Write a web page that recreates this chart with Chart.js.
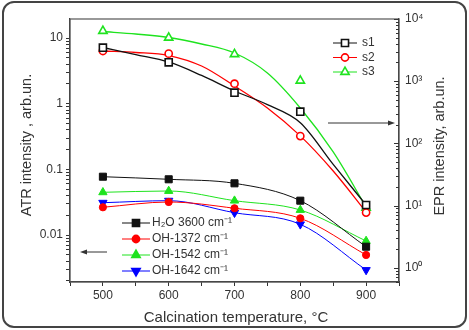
<!DOCTYPE html>
<html>
<head>
<meta charset="utf-8">
<script src="https://cdn.jsdelivr.net/npm/chart.js@4"></script>
<style>
  html, body { margin: 0; padding: 0; background: #fff; }
  #wrap { position: relative; width: 469px; height: 330px; }
  #frame { position: absolute; left: 2px; top: 1px; width: 465px; height: 327px; box-sizing: border-box;
           border: 2px solid #444; border-radius: 12px; pointer-events: none; }
</style>
</head>
<body>
<div id="wrap">
  <canvas id="chart" width="469" height="330"></canvas>
  <div id="frame"></div>
</div>
<script>
const temps = [500, 600, 700, 800, 900]
const fitTemps = [500, 550, 600, 650, 700, 750, 800, 850, 900]

// EPR points (right axis)
const s1 = [3460, 2010, 653, 323, 10.2]
const s2 = [3060, 2770, 912, 131, 7.7]
const s3 = [6410, 5000, 2710, 1018, 9.2]

// EPR fitted curves
const s1Fit = [3480, 2685, 2037, 1236, 696, 420, 215, 46, 10.2]
const s2Fit = [3060, 2893, 2587, 1754, 838, 371, 132, 36, 7.9]
const s3Fit = [6300, 5740, 5040, 3963, 2840, 1355, 371, 72.8, 9.5]

// ATR points (left axis)
const h2o = [0.0774, 0.0707, 0.0614, 0.0334, 0.00665]
const oh1372 = [0.0265, 0.0319, 0.0256, 0.018, 0.00498]
const oh1542 = [0.0448, 0.0469, 0.0334, 0.0241, 0.00813]
const oh1642 = [0.0311, 0.0334, 0.0219, 0.0146, 0.00294]

const xTicks = [500, 600, 700, 800, 900]
const atrTicks = [0.01, 0.1, 1, 10]
const eprTicks = [1, 10, 100, 1000, 10000]
const eprLabels = ['10⁰', '10¹', '10²', '10³', '10⁴']

const BLACK = '#111', RED = '#ff0000', GREEN = '#1ee31e', BLUE = '#0000ff'
const FONT = '"Liberation Sans", Arial, sans-serif'

Chart.defaults.font.family = FONT
Chart.defaults.color = '#333'

const pts = (xs, ys) => xs.map((x, i) => ({ x, y: ys[i] }))

const radiusFor = style => style === 'rect' ? 5 : style === 'circle' ? 3.6 : 4.8

// hollow EPR markers
const eprMarks = (ys, color, style) => ({
  data: pts(temps, ys), yAxisID: 'y1', showLine: false, order: 0,
  pointStyle: style, pointRadius: radiusFor(style),
  pointBorderColor: color, pointBackgroundColor: '#fff', pointBorderWidth: 1.6,
})

const eprFit = (ys, color) => ({
  data: pts(fitTemps, ys), yAxisID: 'y1', order: 1,
  borderColor: color, borderWidth: 1.3, pointRadius: 0, cubicInterpolationMode: 'monotone',
})

// filled ATR markers with their lines
const atr = (ys, color, style, rot) => ({
  data: pts(temps, ys), yAxisID: 'y', order: 0,
  borderColor: color, borderWidth: 1, cubicInterpolationMode: 'monotone',
  pointStyle: style, pointRadius: radiusFor(style), pointRotation: rot || 0,
  pointBorderColor: color, pointBackgroundColor: color, pointBorderWidth: 1,
})

const logTicks = scale => {
  const ticks = []
  for (let e = Math.floor(Math.log10(scale.min)); e <= Math.ceil(Math.log10(scale.max)); e++) {
    for (let m = 1; m < 10; m++) {
      const v = m * Math.pow(10, e)
      if (v >= scale.min && v <= scale.max) ticks.push({ value: v, major: m === 1 })
    }
  }
  scale.ticks = ticks
}

const findTick = (list, v) => list.findIndex(t => Math.abs(v / t - 1) < 1e-6)

const arrow = (ctx, x0, x1, y) => {
  const dir = Math.sign(x1 - x0)
  ctx.beginPath(); ctx.moveTo(x0, y); ctx.lineTo(x1 - dir * 5, y); ctx.stroke()
  ctx.beginPath(); ctx.moveTo(x1, y); ctx.lineTo(x1 - dir * 7, y - 2.5); ctx.lineTo(x1 - dir * 7, y + 2.5)
  ctx.closePath(); ctx.fill()
}

const legendItem = (ctx, item, x0, x1, y, tx) => {
  ctx.strokeStyle = item.color; ctx.lineWidth = 1
  ctx.beginPath(); ctx.moveTo(x0, y); ctx.lineTo(x1, y); ctx.stroke()
  ctx.fillStyle = item.filled ? item.color : '#fff'
  ctx.lineWidth = 1.6
  Chart.helpers.drawPoint(ctx, { pointStyle: item.style, radius: radiusFor(item.style),
    rotation: item.rot || 0, borderWidth: item.filled ? 1 : 1.6 }, (x0 + x1) / 2, y)
  ctx.fillStyle = '#333'
  ctx.textAlign = 'left'; ctx.textBaseline = 'middle'
  ctx.fillText(item.label, tx, y)
}

const eprLegend = [
  { label: 's1', color: BLACK, style: 'rect' },
  { label: 's2', color: RED, style: 'circle' },
  { label: 's3', color: GREEN, style: 'triangle' },
]
const atrLegend = [
  { label: 'H₂O 3600 cm⁻¹', color: BLACK, style: 'rect', filled: true },
  { label: 'OH-1372 cm⁻¹', color: RED, style: 'circle', filled: true },
  { label: 'OH-1542 cm⁻¹', color: GREEN, style: 'triangle', filled: true },
  { label: 'OH-1642 cm⁻¹', color: BLUE, style: 'triangle', filled: true, rot: 180 },
]

const overlay = {
  id: 'overlay',
  afterDraw(chart) {
    const { ctx, chartArea: a, scales } = chart
    ctx.save()

    // plot frame
    ctx.strokeStyle = '#555'; ctx.lineWidth = 1.2
    ctx.strokeRect(a.left, a.top, a.right - a.left, a.bottom - a.top)

    // right axis ticks point inward
    ctx.strokeStyle = '#333'; ctx.lineWidth = 1
    scales.y1.ticks.forEach(t => {
      const y = Math.round(scales.y1.getPixelForValue(t.value)) + 0.5
      ctx.beginPath(); ctx.moveTo(a.right, y); ctx.lineTo(a.right - (t.major ? 5 : 3), y); ctx.stroke()
    })

    // axis titles
    ctx.fillStyle = '#333'
    ctx.font = '14.5px ' + FONT
    ctx.textAlign = 'center'; ctx.textBaseline = 'middle'
    ctx.save(); ctx.translate(27, 145); ctx.rotate(-Math.PI / 2)
    ctx.fillText('ATR intensity , arb.un.', 0, 0); ctx.restore()
    ctx.save(); ctx.translate(440, 146); ctx.rotate(-Math.PI / 2)
    ctx.fillText('EPR intensity, arb.un.', 0, 0); ctx.restore()
    ctx.font = '15px ' + FONT
    ctx.fillText('Calcination temperature, °C', 236, 318)

    // arrows pointing to the axis of each group
    ctx.strokeStyle = '#333'; ctx.fillStyle = '#333'; ctx.lineWidth = 1
    arrow(ctx, 107, 80, 252)
    arrow(ctx, 328, 395, 123)

    // legends
    ctx.font = '12px ' + FONT
    eprLegend.forEach((it, i) => legendItem(ctx, it, 333, 357, 43 + i * 14.5, 362))
    atrLegend.forEach((it, i) => legendItem(ctx, it, 122, 150, 223 + i * 16, 152))

    ctx.restore()
  }
}

new Chart(document.getElementById('chart'), {
  type: 'line',
  data: {
    datasets: [
      eprMarks(s1, BLACK, 'rect'),
      eprMarks(s2, RED, 'circle'),
      eprMarks(s3, GREEN, 'triangle'),
      eprFit(s1Fit, BLACK),
      eprFit(s2Fit, RED),
      eprFit(s3Fit, GREEN),
      atr(h2o, BLACK, 'rect'),
      atr(oh1372, RED, 'circle'),
      atr(oh1542, GREEN, 'triangle'),
      atr(oh1642, BLUE, 'triangle', 180),
    ]
  },
  options: {
    responsive: false,
    animation: false,
    layout: { padding: { top: 19, left: 0, right: 0, bottom: 0 } },
    plugins: { legend: { display: false }, tooltip: { enabled: false } },
    scales: {
      x: {
        type: 'linear', min: 450, max: 950,
        afterFit: s => { s.height = 48 },
        grid: { drawOnChartArea: false, tickLength: 4, color: '#333' },
        border: { color: '#333', width: 1.2 },
        ticks: { stepSize: 50, autoSkip: false, maxRotation: 0, padding: 2, font: { size: 12 },
          callback: v => xTicks.includes(v) ? String(v) : '' },
      },
      y: {
        type: 'logarithmic', position: 'left', min: 0.00193, max: 19.5,
        afterFit: s => { s.width = 70 },
        afterBuildTicks: logTicks,
        grid: { drawOnChartArea: false, tickLength: 4, color: '#333' },
        border: { color: '#333', width: 1.2 },
        ticks: { autoSkip: false, padding: 3, font: { size: 12 },
          callback: v => { const i = findTick(atrTicks, v); return i < 0 ? '' : String(atrTicks[i]) } },
      },
      y1: {
        type: 'logarithmic', position: 'right', min: 0.59, max: 10000,
        afterFit: s => { s.width = 70 },
        afterBuildTicks: logTicks,
        grid: { drawOnChartArea: false, drawTicks: false },
        border: { color: '#333', width: 1.2 },
        ticks: { autoSkip: false, padding: 6, font: { size: 12 },
          callback: v => { const i = findTick(eprTicks, v); return i < 0 ? '' : eprLabels[i] } },
      },
    },
  },
  plugins: [overlay],
})
</script>
</body>
</html>
